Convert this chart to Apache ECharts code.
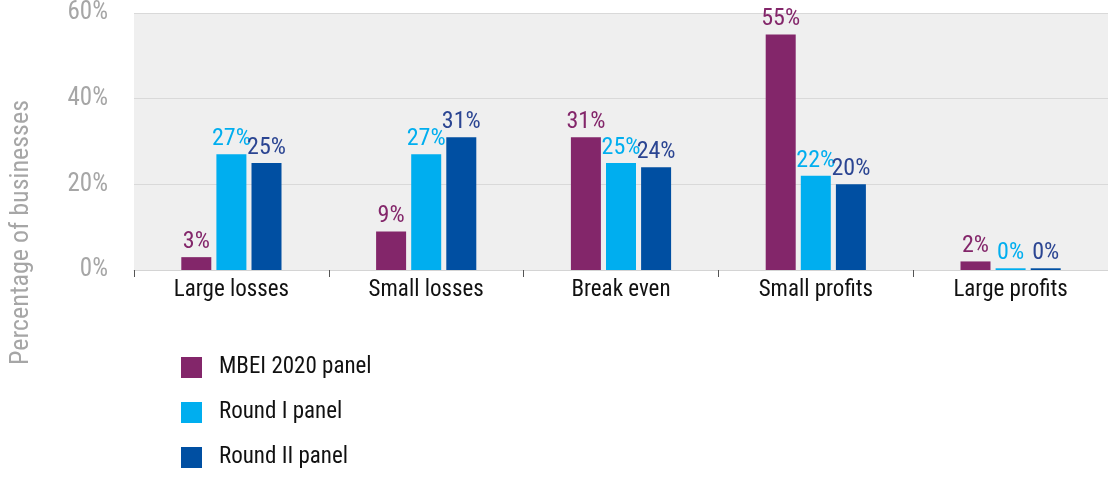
<!DOCTYPE html>
<html>
<head>
<meta charset="utf-8">
<script src="https://cdn.jsdelivr.net/npm/echarts@6/dist/echarts.min.js"></script>
<style>
  html, body { margin: 0; padding: 0; background: #ffffff; }
  #chart { width: 1108px; height: 479px; }
</style>
</head>
<body>
<div id="chart"></div>
<script>
// Profitability outcome buckets
const categories = ['Large losses', 'Small losses', 'Break even', 'Small profits', 'Large profits'];

// Share of businesses in each bucket, per panel (percent)
const mbei2020 = [3, 9, 31, 55, 2];
const roundI = [27, 27, 25, 22, 0.4];
const roundII = [25, 31, 24, 20, 0.4];

const yTicks = [0, 20, 40, 60];
const seriesNames = ['MBEI 2020 panel', 'Round I panel', 'Round II panel'];

const FONT = '"Roboto Condensed", "Liberation Sans Narrow", "DejaVu Sans Condensed", Roboto, sans-serif';

const colors = ['#83266a', '#00aeef', '#004fa2'];
const labelColors = ['#83266a', '#00aeef', '#2b4592'];

const chart = echarts.init(document.getElementById('chart'));

function barSeries(name, data, i) {
  return {
    name: name,
    type: 'bar',
    data: data,
    barWidth: 30,
    barGap: '17%',
    itemStyle: { color: colors[i] },
    label: {
      show: true,
      position: 'top',
      distance: 3,
      color: labelColors[i],
      fontFamily: FONT,
      fontSize: 24,
      formatter: p => Math.round(p.value) + '%'
    }
  };
}

chart.setOption({
  animation: false,
  textStyle: { fontFamily: FONT },
  grid: {
    left: 134, right: 0, top: 13, bottom: 209,
    show: true,
    backgroundColor: '#efefef',
    borderWidth: 0
  },
  legend: {
    orient: 'vertical',
    left: 181,
    top: 356,
    height: 130,
    padding: 0,
    itemWidth: 21,
    itemHeight: 21,
    itemGap: 22,
    icon: 'rect',
    data: seriesNames,
    textStyle: { fontFamily: FONT, fontSize: 23, color: '#111111', padding: [0, 0, 0, 12] }
  },
  xAxis: {
    type: 'category',
    data: categories,
    axisLine: { show: true, lineStyle: { color: '#d4d4d4', width: 1 } },
    axisTick: { show: true, length: 7, lineStyle: { color: '#555555' } },
    axisLabel: { color: '#111111', fontFamily: FONT, fontSize: 23, margin: 9 }
  },
  yAxis: {
    type: 'value',
    min: yTicks[0],
    max: yTicks[yTicks.length - 1],
    interval: yTicks[1] - yTicks[0],
    axisLine: { show: false },
    axisTick: { show: false },
    splitLine: { lineStyle: { color: '#d9d9d9', width: 1 } },
    axisLabel: {
      color: '#a6a6a6',
      fontFamily: FONT,
      fontSize: 25,
      margin: 26,
      formatter: v => v + '%'
    }
  },
  // axis title running bottom-to-top along the left edge
  graphic: [{
    type: 'text',
    x: 8,
    y: 365,
    rotation: Math.PI / 2,
    style: {
      text: 'Percentage of businesses',
      fill: '#a6a6a6',
      font: '26px ' + FONT
    }
  }],
  series: [
    barSeries(seriesNames[0], mbei2020, 0),
    barSeries(seriesNames[1], roundI, 1),
    barSeries(seriesNames[2], roundII, 2)
  ]
});
</script>
</body>
</html>
